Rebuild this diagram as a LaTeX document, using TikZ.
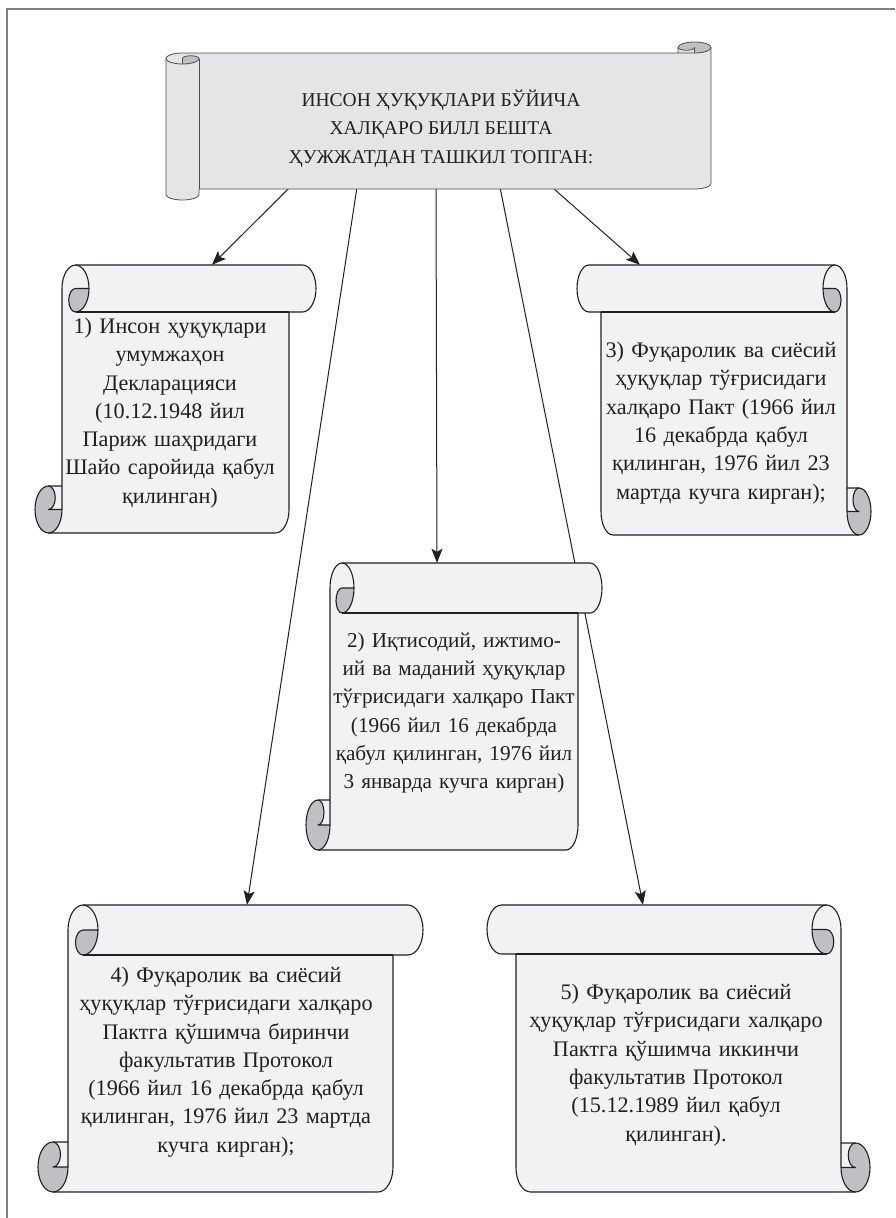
\documentclass[tikz,border=0pt]{standalone}
\usepackage{fontspec}
\setmainfont{Liberation Serif}
\usetikzlibrary{arrows.meta,backgrounds}

\definecolor{paper}{HTML}{F1F2F4}
\definecolor{banner}{HTML}{E4E5E7}
\definecolor{curlgray}{HTML}{BFC0C3}
\definecolor{ink}{HTML}{231F20}
\definecolor{framegray}{HTML}{7F7F7F}

\tikzset{
  rbig/.style={x radius=\scRx, y radius=\scRy},
  rsmall/.style={x radius=\scQx, y radius=\scQy},
  sheet/.style={fill=paper},
  curl/.style={fill=curlgray},
  edge/.style={draw=ink, line width=1.1pt, line join=round},
  bannersheet/.style={fill=banner},
  banneredge/.style={draw=ink!80, line width=0.8pt, line join=round},
  txt/.style={inner sep=0pt, align=center, text=ink, font=\fontsize{22.2}{28.3}\selectfont},
  arr/.style={-{Stealth[length=14pt, width=11pt, inset=3pt]}, draw=ink, line width=1pt},
}

% vertical scroll: corner (top left, or top right with x=-1pt), width, height, roll size x / y
\newcommand{\vscroll}[6][]{%
  \begin{scope}[shift={#2},#1]
    \pgfmathsetmacro\scA{#5}\pgfmathsetmacro\scB{#6}
    \pgfmathsetmacro\scRx{#5/2}\pgfmathsetmacro\scRy{#6/2}
    \pgfmathsetmacro\scQx{#5/4}\pgfmathsetmacro\scQy{#6/4}
    \pgfmathsetmacro\scW{#3}\pgfmathsetmacro\scH{#4}
    \fill[sheet] (\scRx,\scH) arc[start angle=90,end angle=0,rbig] -- (\scRx,\scH-\scRy)
      arc[start angle=90,end angle=-90,rsmall] -- (\scA,\scH-\scB) -- (\scA,\scRy)
      arc[start angle=180,end angle=270,rbig] -- (\scW-\scRx,0)
      arc[start angle=-90,end angle=90,rbig] -- (\scW-\scA,\scB) -- (\scW-\scA,\scH-\scRy)
      arc[start angle=0,end angle=90,rbig] -- cycle;
    \fill[curl] (2*\scA,\scRy) arc[start angle=0,end angle=90,rbig]
      arc[start angle=90,end angle=270,rsmall] -- cycle;
    \fill[curl] (\scA,\scH-\scRy) arc[start angle=0,end angle=270,rbig]
      arc[start angle=-90,end angle=90,rsmall] -- cycle;
    \draw[edge] (\scA,\scH-\scB) -- (\scA,\scRy) arc[start angle=180,end angle=270,rbig]
      -- (\scW-\scRx,0) arc[start angle=-90,end angle=90,rbig] -- (\scW-\scA,\scB)
      -- (\scW-\scA,\scH-\scRy) arc[start angle=0,end angle=90,rbig] -- (\scRx,\scH)
      arc[start angle=90,end angle=270,rbig] -- cycle;
    \draw[edge] (\scA+\scRx,0) arc[start angle=-90,end angle=90,rbig]
      arc[start angle=90,end angle=270,rsmall] -- (2*\scA,\scRy);
    \draw[edge] (\scW-\scA,\scB) -- (\scA+\scRx,\scB);
    \draw[edge] (\scRx,\scH-\scB) arc[start angle=-90,end angle=90,rsmall] -- (\scA,\scH-\scRy);
    \draw[edge] (\scRx,\scH) arc[start angle=90,end angle=0,rbig] -- (\scA,\scH-\scB);
  \end{scope}}

% horizontal scroll: corner, width, height, roll size x / y
\newcommand{\hscroll}[5]{%
  \begin{scope}[shift={#1}]
    \pgfmathsetmacro\scA{#4}\pgfmathsetmacro\scB{#5}
    \pgfmathsetmacro\scRx{#4/2}\pgfmathsetmacro\scRy{#5/2}
    \pgfmathsetmacro\scQx{#4/4}\pgfmathsetmacro\scQy{#5/4}
    \pgfmathsetmacro\scW{#2}\pgfmathsetmacro\scH{#3}
    \fill[bannersheet] (\scW,\scRy) arc[start angle=0,end angle=90,rbig] -- (\scW-\scRx,\scRy)
      arc[start angle=0,end angle=180,rsmall] -- (\scW-\scA,\scB) -- (\scRx,\scB)
      arc[start angle=270,end angle=180,rbig] -- (0,\scH-\scRy)
      arc[start angle=180,end angle=0,rbig] -- (\scA,\scH-\scB) -- (\scW-\scRx,\scH-\scB)
      arc[start angle=90,end angle=0,rbig] -- cycle;
    \fill[curl] (\scRx,2*\scB) arc[start angle=90,end angle=0,rbig]
      arc[start angle=0,end angle=-180,rsmall] -- cycle;
    \fill[curl] (\scW-\scRx,\scB) arc[start angle=90,end angle=-180,rbig]
      arc[start angle=180,end angle=0,rsmall] -- cycle;
    \draw[banneredge] (0,\scB+\scRy) arc[start angle=180,end angle=270,rbig] -- (\scW-\scA,\scB)
      -- (\scW-\scA,\scRy) arc[start angle=180,end angle=360,rbig] -- (\scW,\scH-\scB-\scRy)
      arc[start angle=0,end angle=90,rbig] -- (\scA,\scH-\scB) -- (\scA,\scH-\scRy)
      arc[start angle=0,end angle=180,rbig] -- cycle;
    \draw[banneredge] (\scW-\scA,\scB) -- (\scW-\scRx,\scB) arc[start angle=90,end angle=0,rbig];
    \draw[banneredge] (\scW-\scRx,\scB) -- (\scW-\scRx,\scRy) arc[start angle=0,end angle=180,rsmall];
    \draw[banneredge] (\scRx,2*\scB) -- (\scRx,\scB+\scRy) arc[start angle=180,end angle=360,rsmall]
      arc[start angle=0,end angle=180,rbig];
    \draw[banneredge] (\scA,\scB+\scRy) -- (\scA,\scH-\scB);
  \end{scope}}

\begin{document}
\begin{tikzpicture}[x=1pt, y=-1pt]
  \useasboundingbox (0,0) rectangle (895,1218);
  \draw[framegray, line width=1.6pt] (7,1218) -- (7,9) -- (895,9);

  % scrolls
  \hscroll{(166,42)}{545}{158}{33}{11}
  \vscroll{(35,265)}{281}{268}{27}{47}
  \vscroll{(306,563)}{296}{287}{24}{50}
  \vscroll[x=-1pt]{(871,265)}{294}{270}{24}{47}
  \vscroll{(38,905)}{385}{287}{30}{50}
  \vscroll[x=-1pt]{(870,905)}{383}{287}{29}{49}

  % texts
  \node[txt, font=\fontsize{19.5}{28.5}\selectfont, minimum width=486pt, minimum height=117pt] (title) at (441,128.5)
    {ИНСОН ҲУҚУҚЛАРИ БЎЙИЧА\\ХАЛҚАРО БИЛЛ БЕШТА\\ҲУЖЖАТДАН ТАШКИЛ ТОПГАН:};
  \node[txt, text width=240pt, minimum height=296pt] (b1) at (170,413)
    {1) Инсон ҳуқуқлари\\умумжаҳон\\Декларацияси\\(10.12.1948 йил\\Париж шаҳридаги\\Шайо саройида қабул\\қилинган)};
  \node[txt, font=\fontsize{21.2}{28.3}\selectfont, text width=250pt, minimum height=300pt] (b2) at (454,713)
    {2) Иқтисодий, ижтимо-\\ий ва маданий ҳуқуқлар\\тўғрисидаги халқаро Пакт\\(1966 йил 16 декабрда\\қабул қилинган, 1976 йил\\3 январда кучга кирган)};
  \node[txt, text width=260pt, minimum height=316pt] (b3) at (721,423)
    {3) Фуқаролик ва сиёсий\\ҳуқуқлар тўғрисидаги\\халқаро Пакт (1966 йил\\16 декабрда қабул\\қилинган, 1976 йил 23\\мартда кучга кирган);};
  \node[txt, text width=330pt, minimum height=314pt] (b4) at (226,1062)
    {4) Фуқаролик ва сиёсий\\ҳуқуқлар тўғрисидаги халқаро\\Пактга қўшимча биринчи\\факультатив Протокол\\(1966 йил 16 декабрда қабул\\қилинган, 1976 йил 23 мартда\\кучга кирган);};
  \node[txt, text width=330pt, minimum height=320pt] (b5) at (676,1065)
    {5) Фуқаролик ва сиёсий\\ҳуқуқлар тўғрисидаги халқаро\\Пактга қўшимча иккинчи\\факультатив Протокол\\(15.12.1989 йил қабул\\қилинган).};

  % arrows (behind the scrolls)
  \begin{pgfonlayer}{background}
    \draw[arr] ([xshift=-151pt]title.south) -- ([xshift=42pt]b1.north);
    \draw[arr] ([xshift=-84pt]title.south) -- ([xshift=21pt]b4.north);
    \draw[arr] ([xshift=-5pt]title.south) -- ([xshift=-17pt]b2.north);
    \draw[arr] ([xshift=59pt]title.south) -- ([xshift=-33pt]b5.north);
    \draw[arr] ([xshift=111pt]title.south) -- ([xshift=-81pt]b3.north);
  \end{pgfonlayer}
\end{tikzpicture}
\end{document}
